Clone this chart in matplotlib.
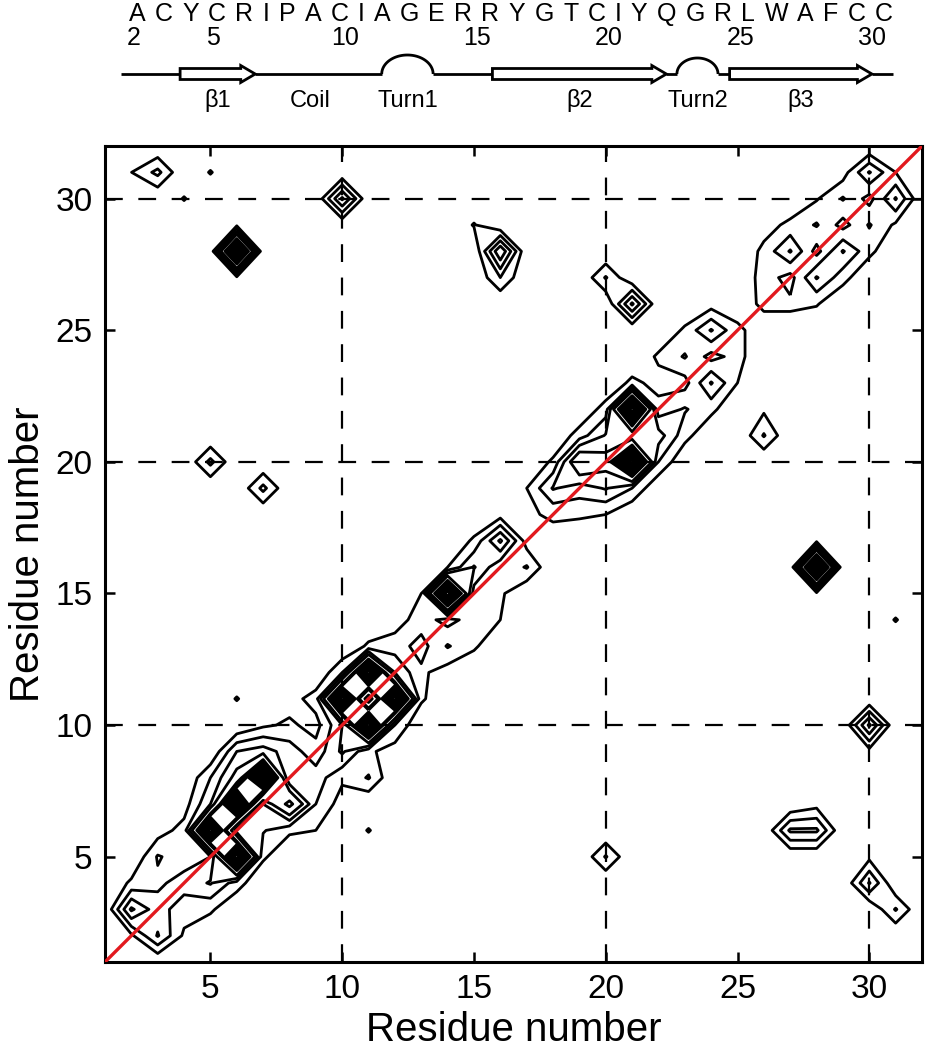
import numpy as np
import matplotlib.pyplot as plt
from matplotlib.patches import Polygon

plt.rcParams['font.family'] = ['Liberation Sans', 'DejaVu Sans']

# ---- data -------------------------------------------------------------
residues = np.arange(1, 33)          # grid of residue numbers 1..32

# contact probability along the band |i - j| <= 3, value at (x, x + k), x = 1..32
off_0 = [0, 0.08, 0.24, 0.24, 0.2, 0.24, 0.3, 0.2, 0.14, 0.3, 0.3, 0.3, 0.06, 0.06, 0.15, 0.12,
         0.05, 0.12, 0.25, 0.45, 0.3, 0.14, 0.06, 0.06, 0.12, 0.12, 0.06, 0.06, 0.06, 0.06, 0.1, 0]
off_p1 = [0, 0.42, 0.18, 0.15, 1.0, 1.0, 1.0, 0.25, 0.06, 1.0, 1.0, 0.15, 0.15, 1.0, 0.31, 0.42,
          0.08, 0.31, 0.55, 0.31, 1.0, 0.06, 0.21, 0.31, 0.05, 0.15, 0.31, 0.21, 0.21, 0.31, 0, 0]
off_p2 = [0, 0.12, 0.21, 0.14, 0.3, 0.45, 0.35, 0.12, 0.15, 0.2, 0.12, 0.05, 0.1, 0.1, 0.12, 0.05,
          0.1, 0.12, 0.15, 0.15, 0.13, 0.12, 0.12, 0.05, 0, 0.13, 0.13, 0.09, 0.05, 0, 0, 0]
off_p3 = [0, 0, 0.05, 0.05, 0.2, 0.3, 0.08, 0.05, 0, 0, 0, 0, 0, 0, 0, 0,
          0, 0, 0, 0, 0, 0, 0, 0, 0, 0.05, 0, 0, 0, 0, 0, 0]
off_m1 = [0, 0, 0.31, 0.15, 0.31, 1.0, 0.21, 0.6, 0.25, 0.32, 1.0, 1.0, 0.12, 0.21, 0.15, 0.12,
          0.21, 0.05, 0.12, 0.31, 1.0, 0.35, 0.21, 0.31, 0.14, 0.05, 0.12, 0.31, 0.31, 0.21, 0.31, 0]
off_m2 = [0, 0, 0, 0.08, 0.12, 0.15, 0.12, 0.12, 0.2, 0.12, 0.12, 0.2, 0.12, 0.05, 0.12, 0.1,
          0, 0, 0, 0.1, 0.2, 0.2, 0.14, 0.13, 0.1, 0, 0.05, 0.11, 0.14, 0.13, 0.08, 0]
off_m3 = [0, 0, 0, 0, 0, 0, 0, 0, 0.1, 0.05, 0.21, 0.05, 0, 0, 0, 0,
          0, 0, 0, 0, 0, 0, 0, 0, 0, 0, 0, 0, 0, 0, 0, 0]
band_offsets = [0, 1, 2, 3, -1, -2, -3]
band_values = [off_0, off_p1, off_p2, off_p3, off_m1, off_m2, off_m3]

# long range contacts away from the diagonal
far_x = [2, 3, 5, 4, 10, 6, 6, 6, 15, 16, 16, 5, 7, 6, 20, 21, 26, 26,
         28, 28, 28, 31, 30, 30, 20, 27, 28, 28, 30, 31, 30, 11]
far_y = [31, 31, 31, 30, 30, 27, 28, 29, 29, 28, 27, 20, 19, 11, 27, 26, 21, 22,
         15, 16, 17, 14, 10, 9, 5, 6, 6, 7, 4, 3, 5, 6]
far_p = [0.099, 0.23, 0.108, 0.108, 0.42, 0.07, 1.0, 0.07, 0.108, 0.5, 0.2, 0.23, 0.23, 0.108,
         0.21, 0.42, 0.21, 0.08, 0.07, 1.0, 0.07, 0.108, 0.42, 0.06, 0.21, 0.32, 0.32, 0.06,
         0.31, 0.21, 0.07, 0.108]

contour_levels = [0.1, 0.2, 0.3, 0.4, 0.55, 0.6, 0.65, 0.7, 0.75, 0.8, 0.85, 0.9, 0.95]

# sequence and secondary structure (residues 2-31)
sequence = "ACYCRIPACIAGERRYGTCIYQGRLWAFCC"
seq_numbers = [2, 5, 10, 15, 20, 25, 30]
strand_start = [3.85, 15.7, 24.7]
strand_end = [6.7, 22.3, 30.1]
strand_label = ["\u03b21", "\u03b22", "\u03b23"]
turn_start = [11.5, 22.7]
turn_end = [13.45, 24.26]
turn_label = ["Turn1", "Turn2"]
coil_label_x = 8.8

# ---- build the map ----------------------------------------------------
n = len(residues)
Z = np.zeros((n, n))
for k, vals in zip(band_offsets, band_values):
    for x, v in zip(residues, vals):
        y = x + k
        if 1 <= y <= n and v > 0:
            Z[y - 1, x - 1] = v
for x, y, v in zip(far_x, far_y, far_p):
    Z[y - 1, x - 1] = v

W, H = 927, 1050
fig = plt.figure(figsize=(W / 100, H / 100), dpi=100)
ax = fig.add_axes([105 / W, 1 - 962 / H, (922 - 105) / W, (962 - 146) / H])

for g in [10, 20, 30]:
    ax.axvline(g, color='k', lw=1.6, ls=(0, (8, 7)), zorder=1)
    ax.axhline(g, color='k', lw=1.6, ls=(0, (8, 7)), zorder=1)

ax.contour(residues, residues, Z, levels=contour_levels, colors='k',
           linewidths=2.0, zorder=3)
ax.plot([1, 32], [1, 32], color='#e2191e', lw=2.4, zorder=5)

ax.set_xlim(1, 32)
ax.set_ylim(1, 32)
ticks = [5, 10, 15, 20, 25, 30]
ax.set_xticks(ticks)
ax.set_yticks(ticks)
ax.tick_params(direction='in', length=7, width=1.8, labelsize=24,
               top=True, right=True, pad=9)
for s in ax.spines.values():
    s.set_linewidth(2.2)
ax.set_xlabel("Residue number", fontsize=29, labelpad=4)
ax.set_ylabel("Residue number", fontsize=29, labelpad=6)

# ---- sequence / secondary structure strip ------------------------------
top = fig.add_axes([105 / W, 1 - 120 / H, (922 - 105) / W, 120 / H])
top.set_xlim(1, 32)
top.set_ylim(0, 120)
top.axis('off')

# one-letter sequence, spread evenly between residue 2 and residue 31
renderer = fig.canvas.get_renderer()
letters = [fig.text(0, 1 - 14 / H, c, fontsize=18, ha='left', va='center') for c in sequence]
widths = [t.get_window_extent(renderer).width for t in letters]
gap = (893 - 129 - sum(widths)) / (len(letters) - 1)
xpix = 129
for t, w in zip(letters, widths):
    t.set_x(xpix / W)
    xpix += w + gap

for r in seq_numbers:
    top.text(r + 0.1, 82, str(r), fontsize=18, ha='center', va='center')

y0 = 46
bb = dict(color='k', lw=2.0, solid_capstyle='butt')
# backbone pieces between the elements
pieces = sorted([(a, b) for a, b in zip(strand_start, strand_end)] +
                [(a, b) for a, b in zip(turn_start, turn_end)])
prev = 1.6
for a, b in pieces:
    top.plot([prev, a], [y0, y0], **bb)
    prev = b
top.plot([prev, 30.9], [y0, y0], **bb)

hb, hh, hl = 5.5, 8.5, 0.55
for a, b, lab in zip(strand_start, strand_end, strand_label):
    pts = [(a, y0 - hb), (b - hl, y0 - hb), (b - hl, y0 - hh), (b, y0),
           (b - hl, y0 + hh), (b - hl, y0 + hb), (a, y0 + hb)]
    top.add_patch(Polygon(pts, closed=True, fc='white', ec='k', lw=2.0))
    top.text((a + b) / 2, 19, lab, fontsize=17, ha='center', va='center')

for a, b, lab, h in zip(turn_start, turn_end, turn_label, [19, 16]):
    t = np.linspace(0, np.pi, 60)
    cx, rx = (a + b) / 2, (b - a) / 2
    top.plot(cx - rx * np.cos(t), y0 + h * np.sin(t), **bb)
    top.text(cx, 19, lab, fontsize=17, ha='center', va='center')

top.text(coil_label_x, 19, "Coil", fontsize=17, ha='center', va='center')

fig.savefig("out.png", dpi=100)
